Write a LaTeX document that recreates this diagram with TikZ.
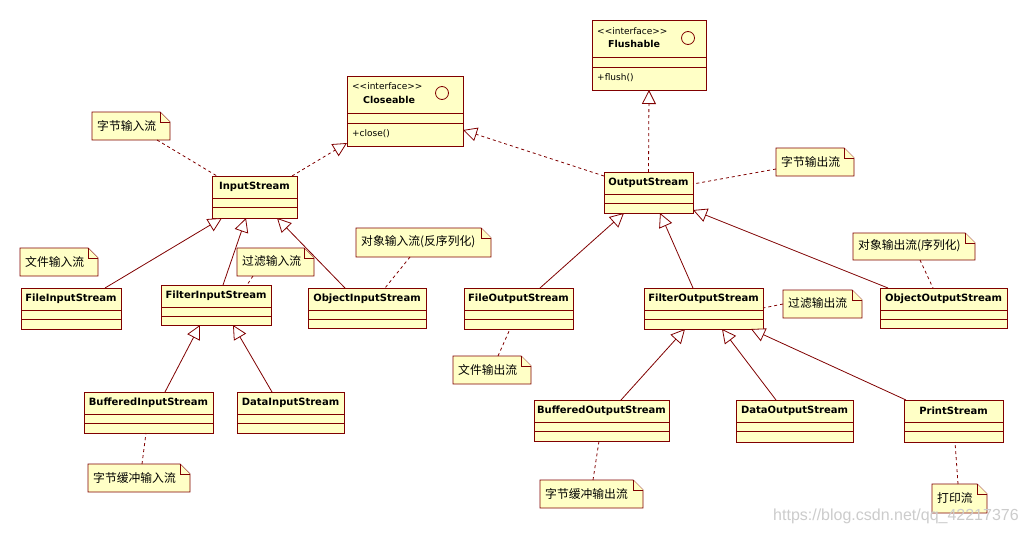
\documentclass[tikz,border=0pt]{standalone}
\usepackage{fontspec}
\setmainfont{DejaVu Sans}
\newfontfamily\cjk{Noto Sans CJK SC}
\newfontfamily\wmfont{Liberation Sans}
\usetikzlibrary{arrows.meta,calc}
\definecolor{umlline}{HTML}{800000}
\definecolor{umlfill}{HTML}{FFFFC6}
\tikzset{
  clsbox/.style={draw=umlline, fill=umlfill, line width=1pt, inner sep=0pt, outer sep=0pt, rectangle},
  clsline/.style={draw=umlline, line width=1pt},
  clsname/.style={font=\fontsize{10}{12}\selectfont\bfseries, inner sep=0pt, text=black},
  ifname/.style={font=\fontsize{9.5}{12}\selectfont\bfseries, inner sep=0pt, text=black, anchor=west},
  iftext/.style={font=\fontsize{9}{11}\selectfont, inner sep=0pt, text=black, anchor=west},
  notearea/.style={inner sep=0pt, outer sep=0pt, rectangle},
  noteline/.style={draw=umlline, fill=umlfill, line width=0.8pt, line join=miter},
  notetext/.style={font=\cjk\fontsize{11.8}{13}\selectfont, inner sep=0pt, text=black, anchor=west},
  gen/.style={draw=umlline, line width=0.8pt, -{Triangle[length=14pt, width=14pt, fill=white]}},
  real/.style={gen, dash pattern=on 3pt off 3pt},
  notelink/.style={draw=umlline, line width=0.8pt, dash pattern=on 3pt off 3pt},
}
\newcommand\umlcls[6]{%
  \node[clsbox, anchor=north west, minimum width={(#5-#3)*1pt}, minimum height={(#6-#4)*1pt}] (#1) at (#3,#4) {};
  \draw[clsline] ([yshift=-22pt]#1.north west) -- ([yshift=-22pt]#1.north east);
  \draw[clsline] ([yshift=-31.5pt]#1.north west) -- ([yshift=-31.5pt]#1.north east);
  \node[clsname] (#1-name) at ([yshift=-11pt]#1.north) {#2};
}
\newcommand\umlnote[6]{%
  \node[notearea, anchor=north west, minimum width={(#5-#3)*1pt}, minimum height={(#6-#4)*1pt}] (#1) at (#3,#4) {};
  \draw[noteline] (#1.north west) -- ([xshift=-10pt]#1.north east) -- ([yshift=-10pt]#1.north east) -- (#1.south east) -- (#1.south west) -- cycle;
  \draw[noteline] ([xshift=-10pt]#1.north east) -- ([xshift=-10pt,yshift=-10pt]#1.north east) -- ([yshift=-10pt]#1.north east);
  \node[notetext] (#1-text) at ([xshift=5pt,yshift=0.5pt]#1.west) {#2};
}
\begin{document}
\begin{tikzpicture}[x=1pt, y=-1pt]
\fill[white] (0,0) rectangle (1027,533);
\useasboundingbox (0,0) rectangle (1027,533);

% interfaces
\node[clsbox, anchor=north west, minimum width=116pt, minimum height=70pt] (Close) at (347,76) {};
\draw[clsline] ([yshift=-37pt]Close.north west) -- ([yshift=-37pt]Close.north east);
\draw[clsline] ([yshift=-47pt]Close.north west) -- ([yshift=-47pt]Close.north east);
\node[iftext] (Close-st) at (352,86) {<{}<interface>{}>};
\node[ifname] (Close-name) at (363,100) {Closeable};
\draw[umlline, line width=0.8pt] (442,93) circle[radius=6.5pt];
\node[iftext] (Close-op) at (352,134) {+close()};

\node[clsbox, anchor=north west, minimum width=114pt, minimum height=70pt] (Flush) at (592,20) {};
\draw[clsline] ([yshift=-37pt]Flush.north west) -- ([yshift=-37pt]Flush.north east);
\draw[clsline] ([yshift=-47pt]Flush.north west) -- ([yshift=-47pt]Flush.north east);
\node[iftext] (Flush-st) at (597,31) {<{}<interface>{}>};
\node[ifname] (Flush-name) at (608,44) {Flushable};
\draw[umlline, line width=0.8pt] (688,38) circle[radius=6.5pt];
\node[iftext] (Flush-op) at (597,78) {+flush()};

% classes
\umlcls{InS}{InputStream}{212}{176}{297}{218}
\umlcls{OutS}{OutputStream}{604}{172}{693}{213}
\umlcls{FileIS}{FileInputStream}{21}{288}{121}{329}
\umlcls{FilterIS}{FilterInputStream}{161}{285}{271}{325}
\umlcls{ObjIS}{ObjectInputStream}{308}{288}{426}{328}
\umlcls{BufIS}{BufferedInputStream}{84}{392}{213}{433}
\umlcls{DataIS}{DataInputStream}{237}{392}{344}{433}
\umlcls{FileOS}{FileOutputStream}{464}{288}{573}{329}
\umlcls{FilterOS}{FilterOutputStream}{644}{288}{763}{329}
\umlcls{ObjOS}{ObjectOutputStream}{880}{288}{1007}{328}
\umlcls{BufOS}{BufferedOutputStream}{534}{400}{669}{441}
\umlcls{DataOS}{DataOutputStream}{736}{400}{853}{442}
\umlcls{PrintS}{PrintStream}{904}{400}{1003}{442}

% notes
\umlnote{n1}{字节输入流}{92}{112}{170}{140}
\umlnote{n2}{文件输入流}{20}{248}{98}{276}
\umlnote{n3}{过滤输入流}{237}{248}{314}{276}
\umlnote{n4}{对象输入流(反序列化)}{356}{228}{491}{257}
\umlnote{n5}{字节输出流}{776}{148}{854}{176}
\umlnote{n6}{文件输出流}{453}{356}{531}{384}
\umlnote{n7}{过滤输出流}{783}{290}{862}{318}
\umlnote{n8}{对象输出流(序列化)}{853}{233}{975}{260}
\umlnote{n9}{字节缓冲输入流}{88}{464}{190}{492}
\umlnote{n10}{字节缓冲输出流}{540}{480}{643}{508}
\umlnote{n11}{打印流}{932}{484}{987}{513}

% realizations
\draw[real] ([xshift=-5pt]InS.north east) -- ([yshift=3pt]Close.south west);
\draw[real] ([yshift=-4pt]OutS.north west) -- ([yshift=-54pt]Close.north east);
\draw[real] (OutS.north) -- (Flush.south);

% generalizations
\draw[gen] ([xshift=34pt]FileIS.north) -- ([xshift=-32.5pt]InS.south);
\draw[gen] ([xshift=7pt]FilterIS.north) -- ([xshift=-8.5pt]InS.south);
\draw[gen] ([xshift=-22pt]ObjIS.north) -- ([xshift=22.5pt]InS.south);
\draw[gen] ([xshift=16.5pt]BufIS.north) -- ([xshift=-16pt]FilterIS.south);
\draw[gen] ([xshift=-18.5pt]DataIS.north) -- ([xshift=17pt]FilterIS.south);
\draw[gen] ([xshift=21.5pt]FileOS.north) -- ([xshift=-24.5pt]OutS.south);
\draw[gen] ([xshift=-10.5pt]FilterOS.north) -- ([xshift=11.5pt]OutS.south);
\draw[gen] ([xshift=-55.5pt]ObjOS.north) -- ([yshift=3pt]OutS.south east);
\draw[gen] ([xshift=19.5pt]BufOS.north) -- ([xshift=-18.5pt]FilterOS.south);
\draw[gen] ([xshift=-18.5pt]DataOS.north) -- ([xshift=18.5pt]FilterOS.south);
\draw[gen] ([xshift=-47.5pt]PrintS.north) -- ([xshift=47.5pt]FilterOS.south);

% note links
\draw[notelink] ([xshift=65pt]n1.south west) -- ([xshift=5pt]InS.north west);
\draw[notelink] ([xshift=16pt]n3.south west) -- ([xshift=86pt]FilterIS.north west);
\draw[notelink] ([xshift=54pt]n4.south west) -- ([xshift=77pt]ObjIS.north west);
\draw[notelink] ([yshift=-7pt]n5.west) -- ([yshift=-12pt]OutS.north east);
\draw[notelink] ([xshift=45pt]n6.north west) -- ([xshift=46pt]FileOS.south west);
\draw[notelink] (n7.west) -- ([yshift=-20pt]FilterOS.north east);
\draw[notelink] ([xshift=67pt]n8.south west) -- ([xshift=53pt]ObjOS.north west);
\draw[notelink] ([xshift=54pt]n9.north west) -- ([xshift=62pt]BufIS.south west);
\draw[notelink] ([xshift=53pt]n10.north west) -- ([xshift=65pt]BufOS.south west);
\draw[notelink] ([xshift=26pt]n11.north west) -- ([xshift=51pt]PrintS.south west);

% watermark
\node[anchor=base west, inner sep=0pt, text=black!20, font=\wmfont\fontsize{16}{18}\selectfont] (wm) at (773,520) {https://blog.csdn.net/qq\_42217376};
\end{tikzpicture}
\end{document}
